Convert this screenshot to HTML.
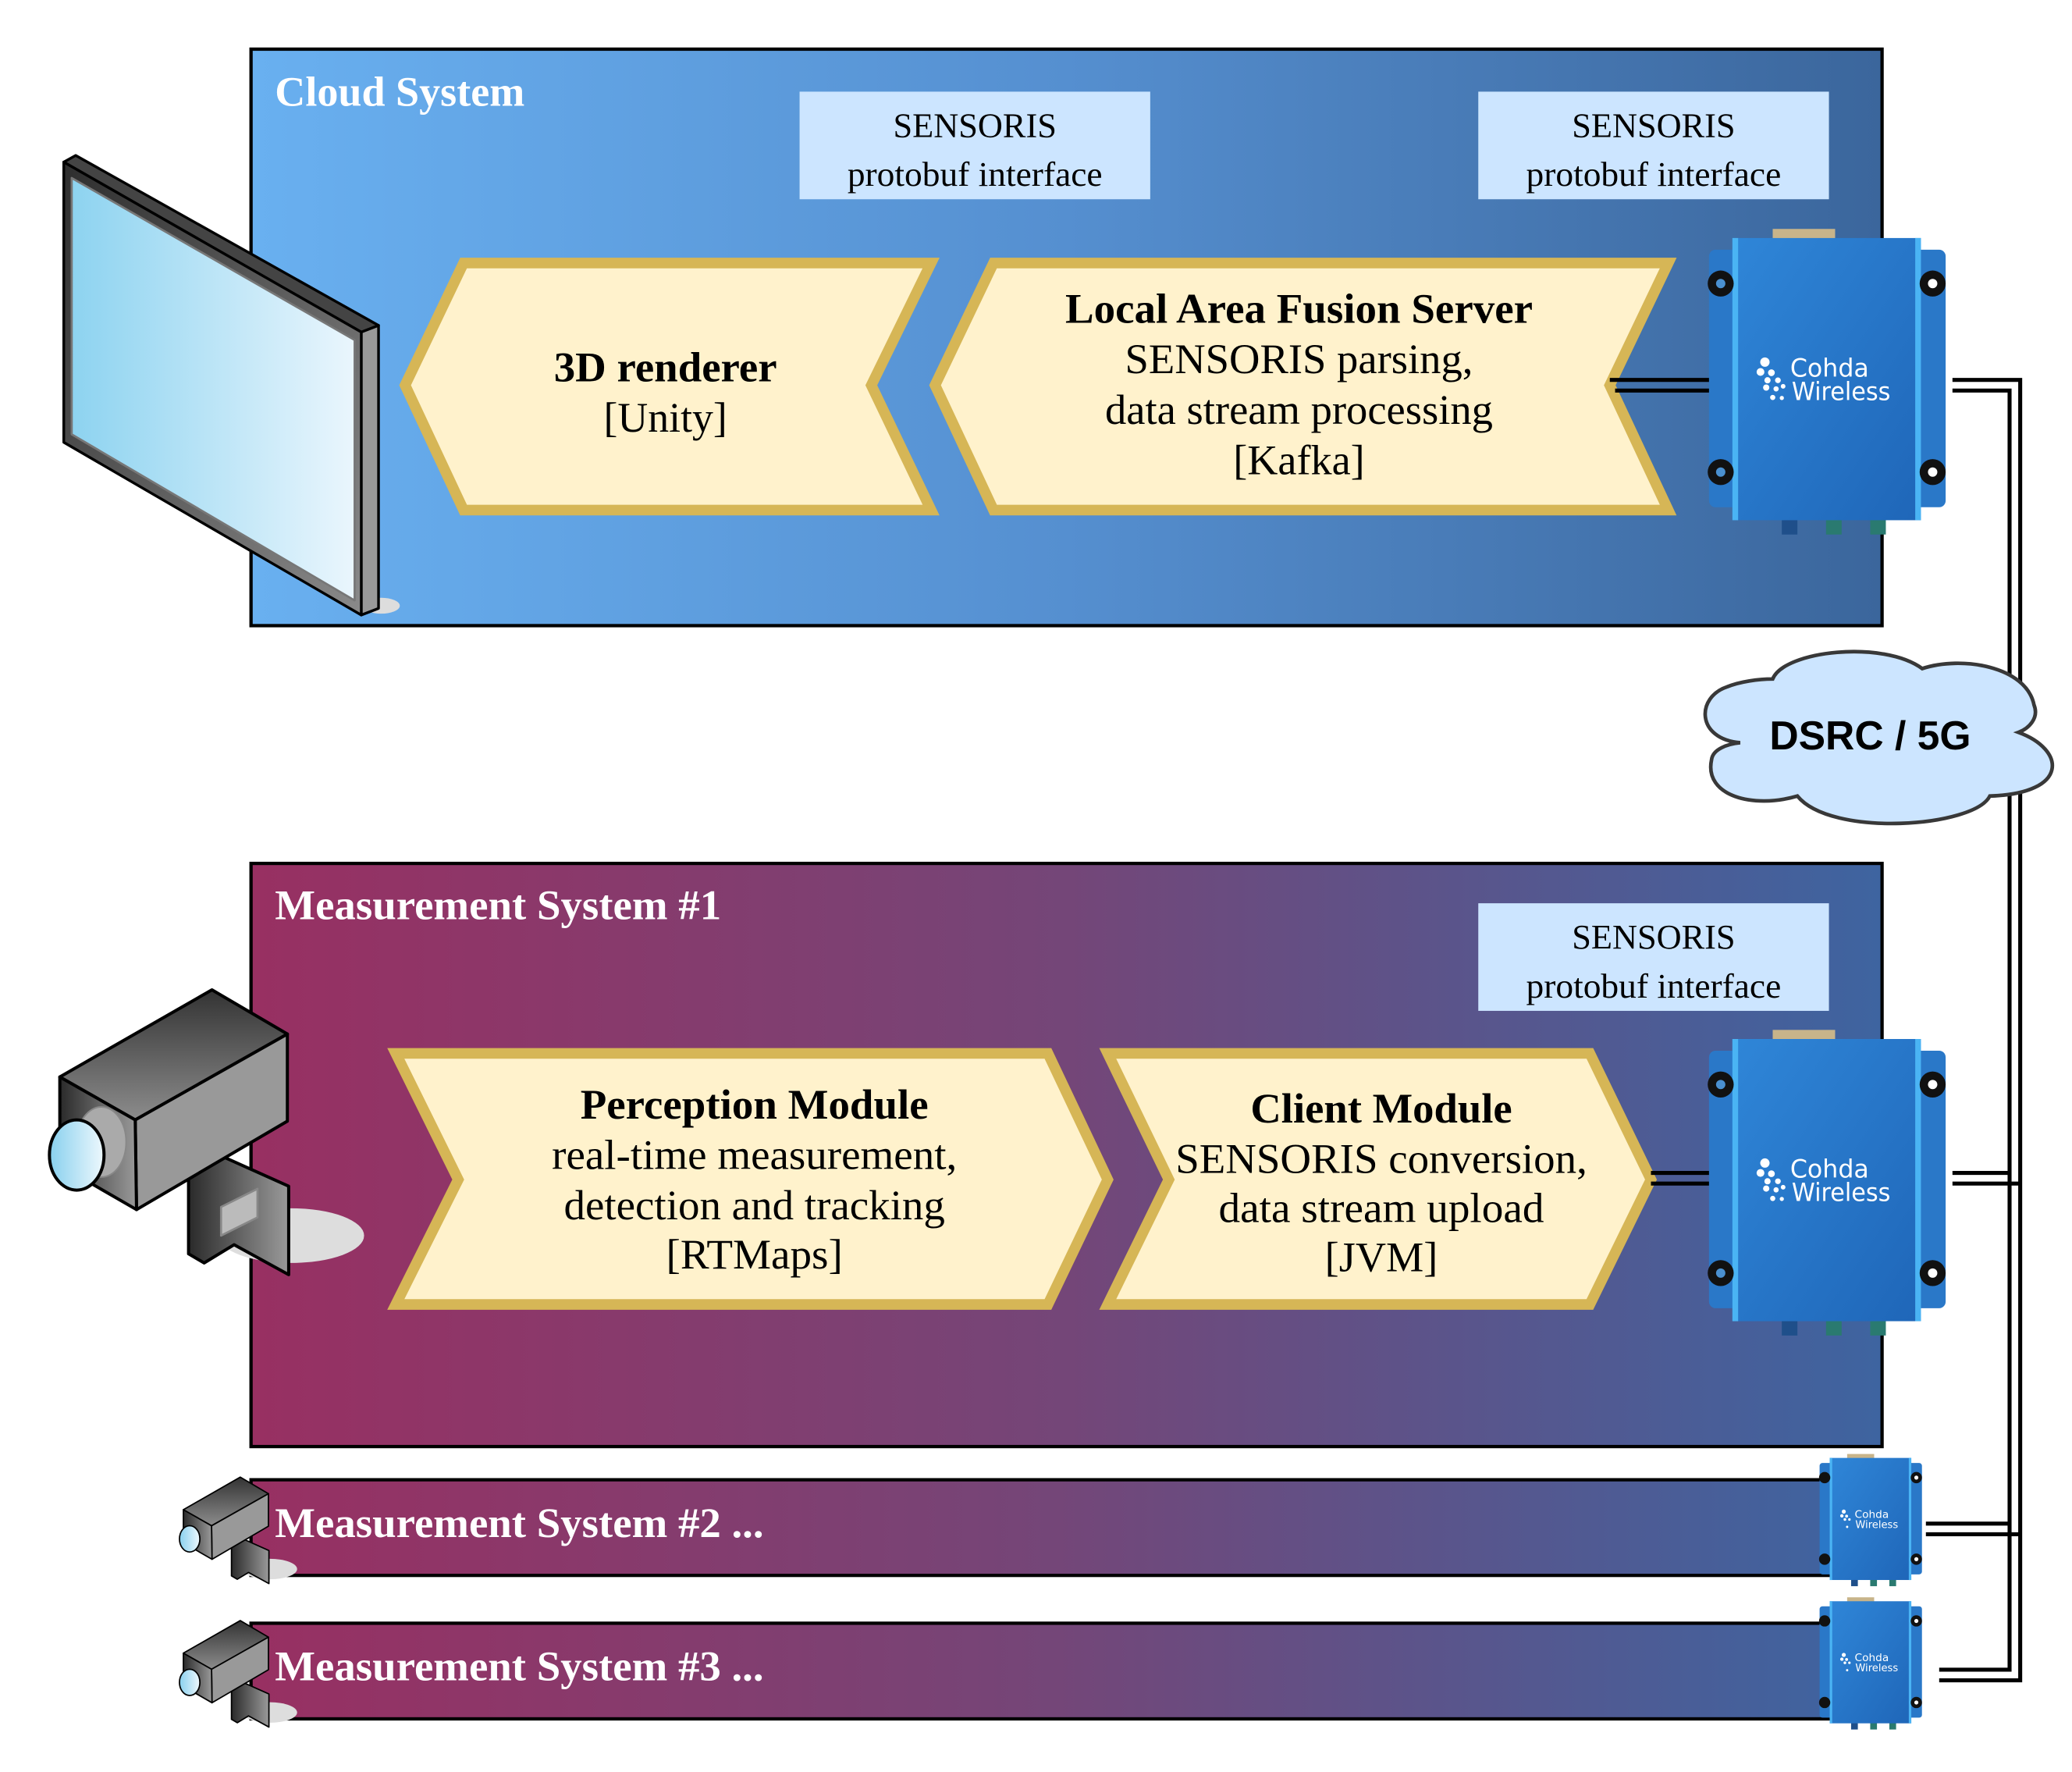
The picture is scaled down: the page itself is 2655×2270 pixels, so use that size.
<!DOCTYPE html>
<html><head><meta charset="utf-8"><style>html,body{margin:0;padding:0;background:#fff}svg{display:block}</style></head>
<body>
<svg xmlns="http://www.w3.org/2000/svg" width="2655" height="2270" viewBox="0 0 1560 1334" preserveAspectRatio="none">
<defs>
<linearGradient id="gc" x1="0" y1="0" x2="1" y2="0"><stop offset="0" stop-color="#69b0f0"/><stop offset="0.5" stop-color="#558fd0"/><stop offset="1" stop-color="#3b669c"/></linearGradient>
<linearGradient id="gm" x1="0" y1="0" x2="1" y2="0"><stop offset="0" stop-color="#983062"/><stop offset="0.5" stop-color="#744678"/><stop offset="1" stop-color="#3e64a0"/></linearGradient>
<linearGradient id="gscreen" x1="0" y1="0" x2="1" y2="0"><stop offset="0" stop-color="#8dd3f0"/><stop offset="1" stop-color="#eaf6fd"/></linearGradient>
<linearGradient id="gdark" x1="0" y1="0" x2="1" y2="1"><stop offset="0" stop-color="#2e2e2e"/><stop offset="1" stop-color="#8a8a8a"/></linearGradient>
<linearGradient id="gtop" x1="0" y1="0" x2="0" y2="1"><stop offset="0" stop-color="#333"/><stop offset="1" stop-color="#8c8c8c"/></linearGradient>
<linearGradient id="gside" x1="0" y1="0" x2="1" y2="0"><stop offset="0" stop-color="#2a2a2a"/><stop offset="1" stop-color="#9a9a9a"/></linearGradient>
<linearGradient id="glens" x1="0" y1="0" x2="1" y2="0"><stop offset="0" stop-color="#88d0ee"/><stop offset="1" stop-color="#eef8fd"/></linearGradient>
<linearGradient id="gdev" x1="0" y1="0" x2="1" y2="1"><stop offset="0" stop-color="#2f86d8"/><stop offset="1" stop-color="#1f66b8"/></linearGradient>
</defs>

<rect x="189" y="37" width="1228" height="434" fill="url(#gc)" stroke="#000" stroke-width="2.5"/>
<text x="207" y="79.5" font-family="Liberation Serif, serif" font-weight="bold" font-size="32" fill="#fff" textLength="188" lengthAdjust="spacingAndGlyphs">Cloud System</text>
<rect x="602" y="69" width="264" height="81" fill="#cce5ff"/>
<rect x="1113" y="69" width="264" height="81" fill="#cce5ff"/>
<g font-family="Liberation Serif, serif" font-size="26" fill="#000" text-anchor="middle">
<text x="734" y="103" textLength="123" lengthAdjust="spacingAndGlyphs">SENSORIS</text>
<text x="734" y="140" textLength="192" lengthAdjust="spacingAndGlyphs">protobuf interface</text>
<text x="1245" y="103" textLength="123" lengthAdjust="spacingAndGlyphs">SENSORIS</text>
<text x="1245" y="140" textLength="192" lengthAdjust="spacingAndGlyphs">protobuf interface</text>
</g>

<polygon points="305,290 349,198 701,198 656,290 701,384 349,384" fill="#fff2cc" stroke="#d6b656" stroke-width="8"/>
<polygon points="704,290 748,198 1256,198 1212,290 1256,384 748,384" fill="#fff2cc" stroke="#d6b656" stroke-width="8"/>
<g font-family="Liberation Serif, serif" font-size="32" fill="#000" text-anchor="middle">
<text x="501" y="287" font-weight="bold" textLength="168" lengthAdjust="spacingAndGlyphs">3D renderer</text>
<text x="501" y="325" textLength="93" lengthAdjust="spacingAndGlyphs">[Unity]</text>
<text x="978" y="243" font-weight="bold" textLength="352" lengthAdjust="spacingAndGlyphs">Local Area Fusion Server</text>
<text x="978" y="281" textLength="262" lengthAdjust="spacingAndGlyphs">SENSORIS parsing,</text>
<text x="978" y="319" textLength="292" lengthAdjust="spacingAndGlyphs">data stream processing</text>
<text x="978" y="357" textLength="99" lengthAdjust="spacingAndGlyphs">[Kafka]</text>
</g>

<rect x="189" y="650" width="1228" height="439" fill="url(#gm)" stroke="#000" stroke-width="2.5"/>
<text x="207" y="692" font-family="Liberation Serif, serif" font-weight="bold" font-size="32" fill="#fff" textLength="336" lengthAdjust="spacingAndGlyphs">Measurement System #1</text>
<rect x="1113" y="680" width="264" height="81" fill="#cce5ff"/>
<g font-family="Liberation Serif, serif" font-size="26" fill="#000" text-anchor="middle">
<text x="1245" y="714" textLength="123" lengthAdjust="spacingAndGlyphs">SENSORIS</text>
<text x="1245" y="751" textLength="192" lengthAdjust="spacingAndGlyphs">protobuf interface</text>
</g>
<polygon points="298,793 789,793 834,888 789,982 298,982 345,888" fill="#fff2cc" stroke="#d6b656" stroke-width="8"/>
<polygon points="834,793 1197,793 1243,888 1197,982 834,982 880,888" fill="#fff2cc" stroke="#d6b656" stroke-width="8"/>
<g font-family="Liberation Serif, serif" font-size="32" fill="#000" text-anchor="middle">
<text x="568" y="842" font-weight="bold" textLength="262" lengthAdjust="spacingAndGlyphs">Perception Module</text>
<text x="568" y="880" textLength="305" lengthAdjust="spacingAndGlyphs">real-time measurement,</text>
<text x="568" y="918" textLength="287" lengthAdjust="spacingAndGlyphs">detection and tracking</text>
<text x="568" y="955" textLength="133" lengthAdjust="spacingAndGlyphs">[RTMaps]</text>
<text x="1040" y="845" font-weight="bold" textLength="197" lengthAdjust="spacingAndGlyphs">Client Module</text>
<text x="1040" y="883" textLength="310" lengthAdjust="spacingAndGlyphs">SENSORIS conversion,</text>
<text x="1040" y="920" textLength="245" lengthAdjust="spacingAndGlyphs">data stream upload</text>
<text x="1040" y="957" textLength="85" lengthAdjust="spacingAndGlyphs">[JVM]</text>
</g>

<rect x="189" y="1114" width="1210" height="72" fill="url(#gm)" stroke="#000" stroke-width="2.5"/>
<rect x="189" y="1222" width="1210" height="72" fill="url(#gm)" stroke="#000" stroke-width="2.5"/>
<text x="207" y="1157" font-family="Liberation Serif, serif" font-weight="bold" font-size="32" fill="#fff" textLength="368" lengthAdjust="spacingAndGlyphs">Measurement System #2 ...</text>
<text x="207" y="1265" font-family="Liberation Serif, serif" font-weight="bold" font-size="32" fill="#fff" textLength="368" lengthAdjust="spacingAndGlyphs">Measurement System #3 ...</text>

<g stroke="#000" stroke-width="3" fill="none">
<line x1="1212" y1="286" x2="1300" y2="286"/>
<line x1="1216" y1="294" x2="1300" y2="294"/>
<polyline points="1470,286 1521,286 1521,1265 1460,1265"/>
<polyline points="1470,294 1513,294 1513,1257 1460,1257"/>
<line x1="1243" y1="883" x2="1300" y2="883"/>
<line x1="1243" y1="891" x2="1300" y2="891"/>
<line x1="1470" y1="883" x2="1513" y2="883"/>
<line x1="1470" y1="891" x2="1521" y2="891"/>
<line x1="1450" y1="1147" x2="1513" y2="1147"/>
<line x1="1450" y1="1155" x2="1521" y2="1155"/>
</g>

<g transform="translate(1280.8,481.8) scale(0.1958)">
<path d="M275,150 C320,40 700,0 850,110 C1000,60 1250,100 1280,250 C1300,300 1260,340 1220,355 C1400,420 1420,590 1110,600 C1050,720 500,760 370,600 C200,650 10,600 40,460 C45,420 100,400 150,395 C-20,380 -20,220 100,180 C150,160 220,150 275,150Z" fill="#cce5ff" stroke="#383838" stroke-width="14"/>
<text x="650" y="420" font-family="Liberation Sans, sans-serif" font-weight="bold" font-size="155" text-anchor="middle" fill="#000">DSRC / 5G</text>
</g>

<!-- Monitor (display coords) -->
<g stroke-linejoin="round">
<ellipse cx="287" cy="456" rx="14" ry="6" fill="#ddd"/>
<polygon points="48,122 57,117 285,245 272,250" fill="#444" stroke="#000" stroke-width="2"/>
<polygon points="272,250 285,245 285,458 272,463" fill="#999" stroke="#000" stroke-width="2"/>
<polygon points="48,122 272,250 272,463 48,333" fill="url(#gdark)" stroke="#000" stroke-width="2"/>
<polygon points="54,134 267,256 267,452 54,327" fill="url(#gscreen)" stroke="#777" stroke-width="1.6"/>
</g>

<g transform="translate(23.5,734.4) scale(0.1958)" stroke="#000" stroke-width="12" stroke-linejoin="round">
<ellipse cx="1000" cy="1000" rx="280" ry="105" fill="#ddd" stroke="none"/>
<polygon points="605,780 745,700 990,810 990,1150 780,1035 665,1105 605,1070" fill="url(#gside)"/>
<polygon points="730,890 870,820 870,930 730,1000" fill="#bbb" stroke="#888" stroke-width="8"/>
<polygon points="110,390 695,55 985,225 400,555" fill="url(#gtop)"/>
<polygon points="400,555 985,225 985,560 405,900" fill="#999"/>
<polygon points="110,390 400,555 405,900 110,730" fill="url(#gside)"/>
<ellipse cx="270" cy="640" rx="95" ry="135" fill="#aaa" stroke="#888" stroke-width="6"/>
<ellipse cx="175" cy="690" rx="105" ry="135" fill="url(#glens)"/>
</g>
<g transform="translate(130,1108) scale(0.0732)" stroke="#000" stroke-width="14" stroke-linejoin="round">
<ellipse cx="1000" cy="1000" rx="280" ry="105" fill="#ddd" stroke="none"/>
<polygon points="605,780 745,700 990,810 990,1150 780,1035 665,1105 605,1070" fill="url(#gside)"/>
<polygon points="110,390 695,55 985,225 400,555" fill="url(#gtop)"/>
<polygon points="400,555 985,225 985,560 405,900" fill="#999"/>
<polygon points="110,390 400,555 405,900 110,730" fill="url(#gside)"/>
<ellipse cx="175" cy="690" rx="105" ry="135" fill="url(#glens)"/>
</g>
<g transform="translate(130,1216) scale(0.0732)" stroke="#000" stroke-width="14" stroke-linejoin="round">
<ellipse cx="1000" cy="1000" rx="280" ry="105" fill="#ddd" stroke="none"/>
<polygon points="605,780 745,700 990,810 990,1150 780,1035 665,1105 605,1070" fill="url(#gside)"/>
<polygon points="110,390 695,55 985,225 400,555" fill="url(#gtop)"/>
<polygon points="400,555 985,225 985,560 405,900" fill="#999"/>
<polygon points="110,390 400,555 405,900 110,730" fill="url(#gside)"/>
<ellipse cx="175" cy="690" rx="105" ry="135" fill="url(#glens)"/>
</g>

<g transform="translate(1263.2,164.5) scale(0.1958)">
<rect x="365" y="40" width="240" height="40" fill="#c8b48a"/>
<rect x="400" y="1150" width="60" height="65" fill="#1f4f8a"/><rect x="570" y="1150" width="60" height="65" fill="#2a7a70"/><rect x="740" y="1150" width="60" height="65" fill="#2a7a70"/>
<rect x="120" y="120" width="910" height="990" rx="25" fill="#2a78c8"/>
<rect x="210" y="75" width="725" height="1085" fill="url(#gdev)"/>
<rect x="210" y="75" width="22" height="1085" fill="#4ab4f4"/><rect x="913" y="75" width="22" height="1085" fill="#4ab4f4"/>
<circle cx="165" cy="250" r="50" fill="#111"/><circle cx="165" cy="250" r="18" fill="#4a90d0"/>
<circle cx="980" cy="250" r="50" fill="#111"/><circle cx="980" cy="250" r="18" fill="#fff"/>
<circle cx="165" cy="975" r="50" fill="#111"/><circle cx="165" cy="975" r="18" fill="#4a90d0"/>
<circle cx="980" cy="975" r="50" fill="#111"/><circle cx="980" cy="975" r="18" fill="#fff"/>
<g fill="#fff"><circle cx="335" cy="552" r="18"/><circle cx="318" cy="590" r="15"/><circle cx="360" cy="593" r="13"/><circle cx="345" cy="622" r="12"/><circle cx="385" cy="622" r="11"/><circle cx="340" cy="650" r="12"/><circle cx="378" cy="655" r="10"/><circle cx="405" cy="645" r="9"/><circle cx="365" cy="688" r="10"/><circle cx="400" cy="690" r="8"/></g>
<text x="432" y="608" font-family="DejaVu Sans, sans-serif" font-size="95" fill="#fff">Cohda</text>
<text x="438" y="698" font-family="DejaVu Sans, sans-serif" font-size="95" fill="#fff" textLength="380" lengthAdjust="spacingAndGlyphs">Wireless</text>
</g>
<g transform="translate(1263.2,767.5) scale(0.1958)">
<rect x="365" y="40" width="240" height="40" fill="#c8b48a"/>
<rect x="400" y="1150" width="60" height="65" fill="#1f4f8a"/><rect x="570" y="1150" width="60" height="65" fill="#2a7a70"/><rect x="740" y="1150" width="60" height="65" fill="#2a7a70"/>
<rect x="120" y="120" width="910" height="990" rx="25" fill="#2a78c8"/>
<rect x="210" y="75" width="725" height="1085" fill="url(#gdev)"/>
<rect x="210" y="75" width="22" height="1085" fill="#4ab4f4"/><rect x="913" y="75" width="22" height="1085" fill="#4ab4f4"/>
<circle cx="165" cy="250" r="50" fill="#111"/><circle cx="165" cy="250" r="18" fill="#4a90d0"/>
<circle cx="980" cy="250" r="50" fill="#111"/><circle cx="980" cy="250" r="18" fill="#fff"/>
<circle cx="165" cy="975" r="50" fill="#111"/><circle cx="165" cy="975" r="18" fill="#4a90d0"/>
<circle cx="980" cy="975" r="50" fill="#111"/><circle cx="980" cy="975" r="18" fill="#fff"/>
<g fill="#fff"><circle cx="335" cy="552" r="18"/><circle cx="318" cy="590" r="15"/><circle cx="360" cy="593" r="13"/><circle cx="345" cy="622" r="12"/><circle cx="385" cy="622" r="11"/><circle cx="340" cy="650" r="12"/><circle cx="378" cy="655" r="10"/><circle cx="405" cy="645" r="9"/><circle cx="365" cy="688" r="10"/><circle cx="400" cy="690" r="8"/></g>
<text x="432" y="608" font-family="DejaVu Sans, sans-serif" font-size="95" fill="#fff">Cohda</text>
<text x="438" y="698" font-family="DejaVu Sans, sans-serif" font-size="95" fill="#fff" textLength="380" lengthAdjust="spacingAndGlyphs">Wireless</text>
</g>
<g transform="translate(1359.8,1091.2) scale(0.0847)">
<rect x="365" y="40" width="240" height="40" fill="#c8b48a"/>
<rect x="400" y="1150" width="60" height="65" fill="#1f4f8a"/><rect x="570" y="1150" width="60" height="65" fill="#2a7a70"/><rect x="740" y="1150" width="60" height="65" fill="#2a7a70"/>
<rect x="120" y="120" width="910" height="990" rx="25" fill="#2a78c8"/>
<rect x="210" y="75" width="725" height="1085" fill="url(#gdev)"/>
<rect x="210" y="75" width="22" height="1085" fill="#4ab4f4"/><rect x="913" y="75" width="22" height="1085" fill="#4ab4f4"/>
<circle cx="165" cy="250" r="50" fill="#111"/><circle cx="980" cy="250" r="50" fill="#111"/><circle cx="980" cy="250" r="18" fill="#fff"/>
<circle cx="165" cy="975" r="50" fill="#111"/><circle cx="980" cy="975" r="50" fill="#111"/><circle cx="980" cy="975" r="18" fill="#fff"/>
<g fill="#fff"><circle cx="335" cy="552" r="18"/><circle cx="318" cy="590" r="15"/><circle cx="360" cy="593" r="13"/><circle cx="345" cy="622" r="12"/><circle cx="385" cy="622" r="11"/><circle cx="365" cy="688" r="10"/></g>
<text x="432" y="608" font-family="DejaVu Sans, sans-serif" font-size="95" fill="#fff">Cohda</text>
<text x="438" y="698" font-family="DejaVu Sans, sans-serif" font-size="95" fill="#fff" textLength="380" lengthAdjust="spacingAndGlyphs">Wireless</text>
</g>
<g transform="translate(1359.8,1199.1) scale(0.0847)">
<rect x="365" y="40" width="240" height="40" fill="#c8b48a"/>
<rect x="400" y="1150" width="60" height="65" fill="#1f4f8a"/><rect x="570" y="1150" width="60" height="65" fill="#2a7a70"/><rect x="740" y="1150" width="60" height="65" fill="#2a7a70"/>
<rect x="120" y="120" width="910" height="990" rx="25" fill="#2a78c8"/>
<rect x="210" y="75" width="725" height="1085" fill="url(#gdev)"/>
<rect x="210" y="75" width="22" height="1085" fill="#4ab4f4"/><rect x="913" y="75" width="22" height="1085" fill="#4ab4f4"/>
<circle cx="165" cy="250" r="50" fill="#111"/><circle cx="980" cy="250" r="50" fill="#111"/><circle cx="980" cy="250" r="18" fill="#fff"/>
<circle cx="165" cy="975" r="50" fill="#111"/><circle cx="980" cy="975" r="50" fill="#111"/><circle cx="980" cy="975" r="18" fill="#fff"/>
<g fill="#fff"><circle cx="335" cy="552" r="18"/><circle cx="318" cy="590" r="15"/><circle cx="360" cy="593" r="13"/><circle cx="345" cy="622" r="12"/><circle cx="385" cy="622" r="11"/><circle cx="365" cy="688" r="10"/></g>
<text x="432" y="608" font-family="DejaVu Sans, sans-serif" font-size="95" fill="#fff">Cohda</text>
<text x="438" y="698" font-family="DejaVu Sans, sans-serif" font-size="95" fill="#fff" textLength="380" lengthAdjust="spacingAndGlyphs">Wireless</text>
</g>
</svg>
</body></html>
